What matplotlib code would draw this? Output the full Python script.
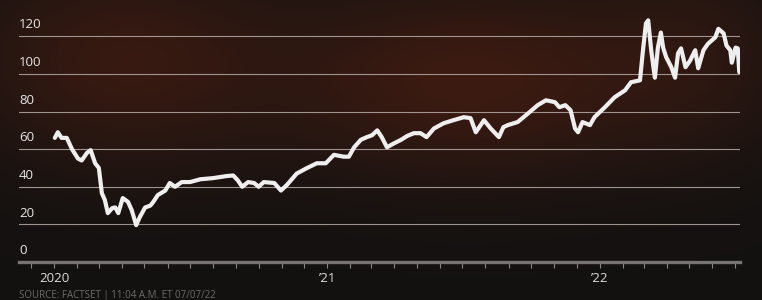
import matplotlib.pyplot as plt
import matplotlib.dates as mdates
import numpy as np
import pandas as pd

# stock price
dates = ['2020-01-02', '2020-01-06', '2020-01-11', '2020-01-18', '2020-01-25', '2020-02-02',
         '2020-02-07', '2020-02-14', '2020-02-19', '2020-02-25', '2020-03-01', '2020-03-05',
         '2020-03-09', '2020-03-13', '2020-03-19', '2020-03-23', '2020-03-27', '2020-04-02',
         '2020-04-09', '2020-04-14', '2020-04-20', '2020-04-25', '2020-05-02', '2020-05-09',
         '2020-05-13', '2020-05-19', '2020-05-29', '2020-06-04', '2020-06-11', '2020-06-20',
         '2020-07-01', '2020-07-15', '2020-08-01', '2020-08-19', '2020-08-28', '2020-09-03',
         '2020-09-09', '2020-09-17', '2020-09-25', '2020-10-01', '2020-10-08', '2020-10-22',
         '2020-10-31', '2020-11-08', '2020-11-21', '2020-12-05', '2020-12-18', '2020-12-30',
         '2021-01-10', '2021-01-23', '2021-01-30', '2021-02-06', '2021-02-15', '2021-02-23',
         '2021-03-02', '2021-03-09', '2021-03-15', '2021-03-22', '2021-03-31', '2021-04-10',
         '2021-04-18', '2021-04-27', '2021-05-06', '2021-05-14', '2021-05-24', '2021-06-06',
         '2021-06-19', '2021-07-03', '2021-07-12', '2021-07-19', '2021-07-30', '2021-08-08',
         '2021-08-19', '2021-08-25', '2021-08-31', '2021-09-13', '2021-09-27', '2021-10-10',
         '2021-10-21', '2021-11-02', '2021-11-08', '2021-11-16', '2021-11-23', '2021-11-29',
         '2021-12-03', '2021-12-09', '2021-12-19', '2021-12-25', '2022-01-08', '2022-01-21',
         '2022-02-04', '2022-02-12', '2022-02-24', '2022-02-28', '2022-03-04', '2022-03-07',
         '2022-03-11', '2022-03-14', '2022-03-16', '2022-03-20', '2022-03-24', '2022-03-27',
         '2022-03-31', '2022-04-07', '2022-04-12', '2022-04-16', '2022-04-20', '2022-04-26',
         '2022-05-02', '2022-05-09', '2022-05-13', '2022-05-20', '2022-05-26', '2022-06-05',
         '2022-06-09', '2022-06-16', '2022-06-20', '2022-06-25', '2022-06-27', '2022-07-02',
         '2022-07-05', '2022-07-07']
prices = [66, 69, 66, 66, 60, 55,
          54, 58, 59.5, 52.5, 50, 36.6,
          33, 26, 28.7, 29, 26, 34,
          32, 27.6, 19.6, 24, 29, 30,
          32, 35.6, 38, 42, 40, 42.5,
          42.5, 44, 44.6, 45.7, 46, 43.5,
          40, 42.5, 42, 40, 42.5, 42,
          38, 41, 47, 50, 52.5, 52.5,
          57, 56, 56, 61, 65, 66.4,
          67.4, 70, 66.4, 61, 63, 65,
          67, 68.5, 68.5, 66.4, 71, 73.8,
          75.4, 77, 76.5, 69, 75.4, 71,
          66.4, 71.7, 72.8, 74.4, 79, 83.4,
          86, 85, 82.3, 83.4, 80.7, 71,
          69, 74.4, 72.8, 77, 82.3, 87.6,
          91.3, 95.6, 96.6, 112.6, 126.9, 128.5,
          112.6, 103.6, 98, 114, 122, 114,
          109, 103.6, 98, 111, 113.6, 103.6,
          107, 112.6, 103, 112.6, 116, 119.5,
          124, 121.6, 115, 112.6, 106, 114,
          113.6, 101]

y_ticks = [0, 20, 40, 60, 80, 100, 120]
year_labels = {2020: '2020', 2021: '\u201921', 2022: '\u201922'}
source_note = 'SOURCE: FACTSET | 11:04 A.M. ET 07/07/22'

plt.rcParams['font.family'] = ['Open Sans', 'DejaVu Sans']

fig = plt.figure(figsize=(7.62, 3.0), dpi=100)

# dark background with a reddish glow
bg = fig.add_axes([0, 0, 1, 1])
gx, gy = np.meshgrid(np.linspace(0, 762, 382), np.linspace(0, 300, 151))
base = np.array([0.075, 0.068, 0.066])
glow = np.array([0.235, 0.105, 0.068])
g1 = np.exp(-(((gx - 120) / 160) ** 2 + ((gy - 60) / 110) ** 2))
g2 = np.exp(-(((gx - 470) / 190) ** 2 + ((gy - 80) / 100) ** 2))
g3 = 0.45 * np.exp(-(((gx - 700) / 110) ** 2 + ((gy - 50) / 110) ** 2))
w = np.clip(g1 * 0.85 + g2 + g3, 0, 1)[..., None]
img = base + (glow - base) * w
bg.imshow(img, extent=[0, 762, 300, 0], aspect='auto')
bg.set_xlim(0, 762)
bg.set_ylim(300, 0)
bg.axis('off')

ax = fig.add_axes([19 / 762, 38 / 300, 721 / 762, 252 / 300])
ax.patch.set_alpha(0)

x = pd.to_datetime(dates)
for v in y_ticks[1:]:
    ax.axhline(v, color='#b5aba6', lw=0.8, alpha=0.85, zorder=1)

ax.plot(x, prices, color='#efefef', lw=3.0, solid_joinstyle='round',
        solid_capstyle='round', zorder=3)

ax.set_ylim(0, 134)
ax.set_xlim(pd.Timestamp('2019-11-15'), pd.Timestamp('2022-07-08'))

for s in ['top', 'right', 'left']:
    ax.spines[s].set_visible(False)
ax.spines['bottom'].set_color('#767372')
ax.spines['bottom'].set_linewidth(2.4)

ax.set_yticks([])
for v in y_ticks:
    ax.annotate(str(v), xy=(0, v), xycoords=('axes fraction', 'data'),
                xytext=(0, 3.5), textcoords='offset points',
                ha='left', va='bottom', color='#e6e6e6', fontsize=9.5)

ax.xaxis.set_major_locator(mdates.YearLocator())
ax.xaxis.set_major_formatter(plt.FuncFormatter(
    lambda d, pos: year_labels.get(mdates.num2date(d).year, '')))
ax.xaxis.set_minor_locator(mdates.MonthLocator())
ax.tick_params(axis='x', which='both', direction='out', length=4, width=0.8,
               color='#8a8685', pad=3)
ax.tick_params(axis='x', which='major', labelsize=9.5, labelcolor='#dcdcdc')

fig.text(19 / 762, 10 / 300, source_note, ha='left', va='top',
         color='#6e6a68', fontsize=7)

fig.savefig('out.png', dpi=100)
